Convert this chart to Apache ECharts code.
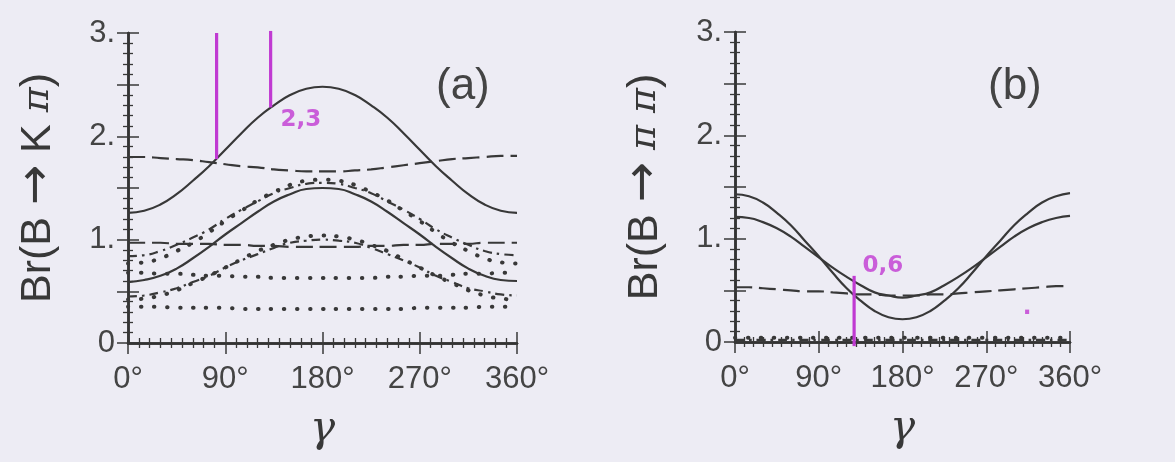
<!DOCTYPE html>
<html>
<head>
<meta charset="utf-8">
<script src="https://cdn.jsdelivr.net/npm/echarts@6/dist/echarts.min.js"></script>
<style>
  html, body { margin: 0; padding: 0; background: #edecf4; }
  #main { width: 1175px; height: 462px; }
</style>
</head>
<body>
<div id="main"></div>
<script>
// γ 取样点
const gamma = [0, 15, 30, 45, 60, 75, 90, 105, 120, 135, 150, 165, 180, 195, 210, 225, 240, 255, 270, 285, 300, 315, 330, 345, 360];

// (a) Br(B -> K pi)
const aSolidUpper = [1.26, 1.28, 1.34, 1.44, 1.57, 1.71, 1.87, 2.03, 2.18, 2.30, 2.40, 2.46, 2.48, 2.46, 2.40, 2.30, 2.18, 2.03, 1.87, 1.71, 1.57, 1.44, 1.34, 1.28, 1.26];
const aDashUpper = [1.80, 1.80, 1.79, 1.78, 1.77, 1.75, 1.73, 1.71, 1.70, 1.68, 1.67, 1.66, 1.66, 1.66, 1.67, 1.68, 1.70, 1.72, 1.74, 1.76, 1.78, 1.79, 1.80, 1.81, 1.81];
const aSolidLower = [0.59, 0.61, 0.65, 0.72, 0.82, 0.93, 1.05, 1.16, 1.27, 1.37, 1.44, 1.49, 1.50, 1.49, 1.44, 1.37, 1.27, 1.16, 1.05, 0.93, 0.82, 0.72, 0.65, 0.61, 0.60];
const aDashLower = [0.97, 0.97, 0.97, 0.96, 0.96, 0.96, 0.95, 0.95, 0.94, 0.94, 0.93, 0.93, 0.93, 0.93, 0.93, 0.94, 0.94, 0.95, 0.95, 0.96, 0.96, 0.96, 0.97, 0.97, 0.97];
const aDashDotUpper = [0.84, 0.85, 0.89, 0.95, 1.02, 1.10, 1.20, 1.29, 1.37, 1.45, 1.50, 1.54, 1.55, 1.54, 1.50, 1.45, 1.37, 1.29, 1.20, 1.10, 1.02, 0.95, 0.89, 0.86, 0.85];
const aDotUpper = [0.77, 0.78, 0.82, 0.89, 0.97, 1.07, 1.18, 1.28, 1.38, 1.46, 1.53, 1.57, 1.58, 1.57, 1.53, 1.46, 1.38, 1.28, 1.18, 1.07, 0.97, 0.89, 0.82, 0.78, 0.77];
const aDashDotLower = [0.45, 0.46, 0.49, 0.53, 0.59, 0.65, 0.73, 0.80, 0.86, 0.92, 0.97, 0.99, 1.00, 0.99, 0.97, 0.92, 0.86, 0.80, 0.73, 0.65, 0.59, 0.53, 0.50, 0.47, 0.46];
const aDotLower = [0.42, 0.43, 0.46, 0.51, 0.58, 0.65, 0.73, 0.81, 0.89, 0.95, 1.00, 1.03, 1.04, 1.03, 1.00, 0.95, 0.89, 0.81, 0.73, 0.65, 0.58, 0.51, 0.46, 0.43, 0.42];
const aDotFlatUpper = [0.68, 0.68, 0.67, 0.67, 0.66, 0.65, 0.65, 0.64, 0.64, 0.63, 0.63, 0.63, 0.63, 0.63, 0.63, 0.63, 0.64, 0.64, 0.65, 0.65, 0.66, 0.67, 0.67, 0.68, 0.68];
const aDotFlatLower = [0.35, 0.35, 0.35, 0.34, 0.34, 0.34, 0.34, 0.33, 0.33, 0.33, 0.33, 0.33, 0.33, 0.33, 0.33, 0.33, 0.33, 0.33, 0.34, 0.34, 0.34, 0.34, 0.35, 0.35, 0.35];

// (b) Br(B -> pi pi)
const bSolidDeep = [1.43, 1.41, 1.35, 1.25, 1.13, 0.98, 0.83, 0.67, 0.52, 0.40, 0.30, 0.24, 0.22, 0.24, 0.30, 0.40, 0.52, 0.67, 0.83, 0.98, 1.13, 1.25, 1.35, 1.41, 1.44];
const bSolidShallow = [1.21, 1.20, 1.16, 1.10, 1.02, 0.92, 0.82, 0.72, 0.63, 0.55, 0.48, 0.45, 0.43, 0.45, 0.48, 0.55, 0.63, 0.72, 0.82, 0.92, 1.02, 1.10, 1.16, 1.20, 1.22];
const bDash = [0.53, 0.53, 0.52, 0.51, 0.50, 0.49, 0.49, 0.48, 0.47, 0.46, 0.46, 0.45, 0.45, 0.45, 0.46, 0.46, 0.47, 0.48, 0.49, 0.50, 0.51, 0.52, 0.53, 0.54, 0.54];
const bDotBottom = [0.04, 0.04, 0.04, 0.04, 0.04, 0.04, 0.04, 0.04, 0.04, 0.04, 0.04, 0.04, 0.04, 0.04, 0.04, 0.04, 0.04, 0.04, 0.04, 0.04, 0.04, 0.04, 0.04, 0.04, 0.04];
const bDashDotBottom = [0.02, 0.02, 0.02, 0.02, 0.02, 0.02, 0.02, 0.02, 0.02, 0.02, 0.02, 0.02, 0.02, 0.02, 0.02, 0.02, 0.02, 0.02, 0.02, 0.02, 0.02, 0.02, 0.02, 0.02, 0.02];

// 手写标注 (品红)
const penA1 = [[82, 3.0], [82, 1.78]];
const penA2 = [[132, 3.02], [132, 2.28]];
const penB1 = [[128, -0.04], [128, 0.64]];
const penNotes = { a: [[160, 2.16, '2,3']], b: [[159, 0.74, '0,6'], [314, 0.27, '·']] };

// 刻度文字
const xTickLabels = { 0: '0°', 90: '90°', 180: '180°', 270: '270°', 360: '360°' };
const yTickLabels = { 0: '0', 1: '1.', 2: '2.', 3: '3.' };

const ink = '#383838';
const pen = '#c03ad2';
const font = 'Liberation Sans';

function pairs(ys) {
  return gamma.map((g, i) => [g, ys[i]]);
}

function xAxes(gi) {
  const base = {
    gridIndex: gi, type: 'value', min: 0, max: 360, interval: 90,
    axisLine: { lineStyle: { color: '#333', width: 2.5 } },
    axisTick: { inside: true, length: 11, lineStyle: { color: ink, width: 1.5 } },
    minorTick: { show: true, splitNumber: 9, length: 5, lineStyle: { color: ink, width: 1.3 } },
    splitLine: { show: false },
  };
  return [
    Object.assign({}, base, {
      position: 'bottom',
      name: 'γ', nameLocation: 'middle', nameGap: 66,
      nameTextStyle: { fontFamily: 'DejaVu Serif', fontStyle: 'italic', fontSize: 42, color: ink },
      axisLabel: { formatter: (v) => xTickLabels[v], fontFamily: font, fontSize: 31, color: '#444', margin: 21 },
    }),
    Object.assign({}, base, { position: 'top', axisLabel: { show: false } }),
  ];
}

function yAxes(gi, nameRich) {
  const base = {
    gridIndex: gi, type: 'value', min: 0, max: 3, interval: 0.5,
    axisLine: { lineStyle: { color: '#333', width: 2.5 } },
    axisTick: { inside: true, length: 11, lineStyle: { color: ink, width: 1.5 } },
    minorTick: { show: true, splitNumber: 5, length: 5, lineStyle: { color: ink, width: 1.3 } },
    splitLine: { show: false },
  };
  return [
    Object.assign({}, base, {
      position: 'left',
      name: nameRich, nameLocation: 'middle', nameGap: 66,
      nameTextStyle: {
        fontFamily: font, fontSize: 43, color: ink,
        rich: {
          p: { fontFamily: 'DejaVu Serif', fontStyle: 'italic', fontSize: 38, color: ink },
          r: { fontFamily: 'DejaVu Sans', fontSize: 48, color: ink },
        },
      },
      axisLabel: {
        formatter: (v) => (yTickLabels[v] !== undefined ? yTickLabels[v] : ''),
        fontFamily: font, fontSize: 31, color: '#444', margin: 13, padding: [10, 0, 0, 0],
      },
    }),
    Object.assign({}, base, { position: 'right', axisLabel: { show: false } }),
  ];
}

function curve(gi, ys, dash, extra) {
  return Object.assign({
    type: 'line', xAxisIndex: gi * 2, yAxisIndex: gi * 2, data: pairs(ys),
    smooth: true, symbol: 'none', silent: true,
    lineStyle: { color: ink, width: 2.2, type: dash, cap: 'butt' },
  }, extra || {});
}

const longDash = [17, 7];
const dashDot = [9, 5, 2.5, 5];
const dots = [0.5, 12.5];
const dotStyle = (gi, ys) => curve(gi, ys, dots, { lineStyle: { color: ink, width: 4, type: dots, cap: 'round' } });

function penLine(gi, pts) {
  return {
    type: 'line', xAxisIndex: gi * 2, yAxisIndex: gi * 2, data: pts,
    symbol: 'none', silent: true, clip: false,
    lineStyle: { color: pen, width: 3.2 },
  };
}

function penText(gi, pts) {
  return {
    type: 'scatter', xAxisIndex: gi * 2, yAxisIndex: gi * 2, data: pts,
    symbolSize: 0, silent: true,
    label: {
      show: true, position: 'inside', formatter: (p) => p.data[2],
      fontFamily: 'DejaVu Sans', fontWeight: 'bold', fontSize: 23, color: pen,
    },
  };
}

const option = {
  backgroundColor: '#edecf4',
  animation: false,
  title: [
    { text: '(a)', left: 431, top: 60, textStyle: { fontFamily: font, fontSize: 44, fontWeight: 'normal', color: '#444' } },
    { text: '(b)', left: 983, top: 60, textStyle: { fontFamily: font, fontSize: 44, fontWeight: 'normal', color: '#444' } },
  ],
  grid: [
    { left: 128, top: 33, width: 389, height: 310 },
    { left: 735, top: 32, width: 335, height: 310 },
  ],
  xAxis: [...xAxes(0), ...xAxes(1)],
  yAxis: [
    ...yAxes(0, 'Br(B {r|→} K {p|π})'),
    ...yAxes(1, 'Br(B {r|→} {p|π π})'),
  ],
  series: [
    curve(0, aSolidUpper, 'solid'),
    curve(0, aDashUpper, longDash),
    curve(0, aSolidLower, 'solid'),
    curve(0, aDashLower, longDash),
    curve(0, aDashDotUpper, dashDot),
    dotStyle(0, aDotUpper),
    curve(0, aDashDotLower, dashDot),
    dotStyle(0, aDotLower),
    dotStyle(0, aDotFlatUpper),
    dotStyle(0, aDotFlatLower),
    penLine(0, penA1),
    penLine(0, penA2),
    penText(0, penNotes.a),

    curve(1, bSolidDeep, 'solid'),
    curve(1, bSolidShallow, 'solid'),
    curve(1, bDash, longDash),
    dotStyle(1, bDotBottom),
    curve(1, bDashDotBottom, dashDot),
    penLine(1, penB1),
    penText(1, penNotes.b),
  ],
};

const myChart = echarts.init(document.getElementById('main'), null, { renderer: 'canvas' });
myChart.setOption(option);
</script>
</body>
</html>
